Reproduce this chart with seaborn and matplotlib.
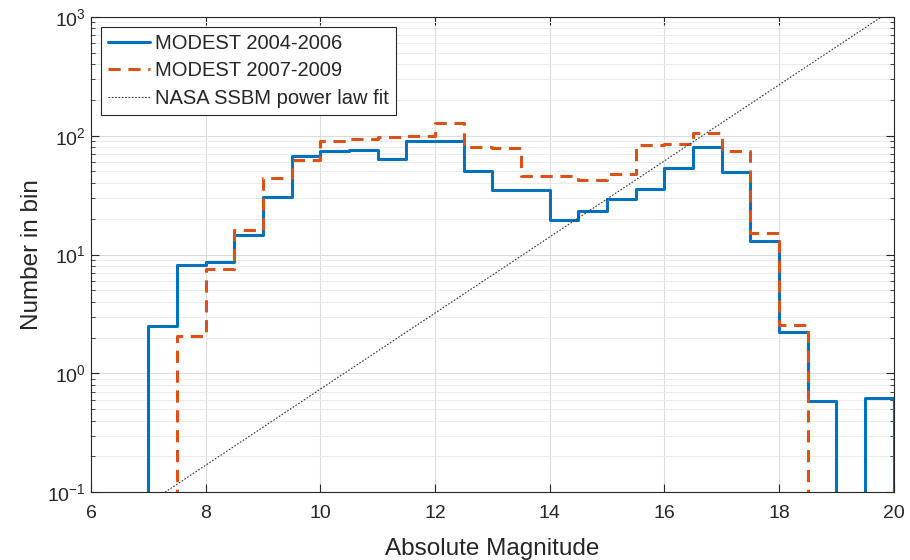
import numpy as np
import matplotlib
matplotlib.use("Agg")
import matplotlib.pyplot as plt
import seaborn as sns
from matplotlib.ticker import LogLocator, FixedLocator

# bin edges (0.5 mag bins) and counts
edges = np.arange(7.0, 20.01, 0.5)
modest_0406 = [2.5, 8.15, 8.6, 14.7, 30.6, 68, 75, 76, 64, 91, 90, 50.5,
               34.7, 35, 19.6, 23.2, 29.3, 35.5, 53.6, 81, 49.2, 13.1,
               2.22, 0.59, 0, 0.62]
modest_0709 = [0, 2.05, 7.5, 16.1, 44, 62.5, 91, 93, 97, 98.6, 128, 80,
               79, 46, 46, 42.7, 47.6, 83, 85.5, 106, 74, 15.1,
               2.57, 0, 0, 0]
fit_x = [7.29, 19.79]
fit_y = [0.1, 1000]

blue = "#0072BD"
orange = "#D95319"

sns.set_style("ticks")
plt.rcParams['font.family'] = ['Liberation Sans', 'DejaVu Sans']
plt.rcParams['mathtext.fontset'] = 'custom'
plt.rcParams['mathtext.rm'] = 'Liberation Sans'
plt.rcParams['mathtext.default'] = 'regular'


def stairs(vals, floor=1e-3):
    # outline of a histogram, empty bins pushed below the axis
    v = np.where(np.array(vals) > 0, vals, floor)
    x = np.concatenate([[edges[0]], edges])
    y = np.concatenate([[floor], v, [floor]])
    return x, y


fig = plt.figure(figsize=(9.1, 5.6), dpi=100)
ax = fig.add_axes([0.1, 0.121, 0.882, 0.849])

x1, y1 = stairs(modest_0406)
x2, y2 = stairs(modest_0709)
sns.lineplot(x=x1, y=y1, ax=ax, estimator=None, sort=False, drawstyle='steps-post',
             color=blue, lw=2.2, label='MODEST 2004-2006')
sns.lineplot(x=x2, y=y2, ax=ax, estimator=None, sort=False, drawstyle='steps-post',
             color=orange, lw=2.2, dashes=(4, 2.5), label='MODEST 2007-2009')
sns.lineplot(x=fit_x, y=fit_y, ax=ax, estimator=None, sort=False,
             color='#333333', lw=0.8, dashes=(1.5, 1.5), label='NASA SSBM power law fit')

ax.set_yscale('log')
ax.set_xlim(6, 20)
ax.set_ylim(0.1, 1000)
ax.xaxis.set_major_locator(FixedLocator([6, 8, 10, 12, 14, 16, 18, 20]))
ax.yaxis.set_major_locator(LogLocator(base=10, numticks=10))
ax.yaxis.set_minor_locator(LogLocator(base=10, subs=np.arange(2, 10), numticks=10))

ax.grid(True, which='major', color='#dcdcdc', lw=0.8)
ax.grid(True, which='minor', axis='y', color='#ebebeb', lw=0.7)
ax.set_axisbelow(True)

for s in ax.spines.values():
    s.set_visible(True)
    s.set_color('#262626')
    s.set_linewidth(0.8)
ax.tick_params(which='both', direction='in', top=True, right=True, colors='#262626',
               labelcolor='#262626', labelsize=14)
ax.tick_params(which='major', length=6)
ax.tick_params(which='minor', length=3)
ax.tick_params(axis='x', pad=9)

ax.set_xlabel('Absolute Magnitude', fontsize=17.5, color='#262626', labelpad=12)
ax.set_ylabel('Number in bin', fontsize=17.5, color='#262626', labelpad=3)

leg = ax.legend(loc='upper left', fontsize=14.5, frameon=True, fancybox=False,
                framealpha=1, edgecolor='#262626', handlelength=2.1,
                borderaxespad=0.5, borderpad=0.35, labelspacing=0.42,
                handletextpad=0.25)
leg.get_frame().set_linewidth(0.8)

fig.savefig('out.png', dpi=100)
